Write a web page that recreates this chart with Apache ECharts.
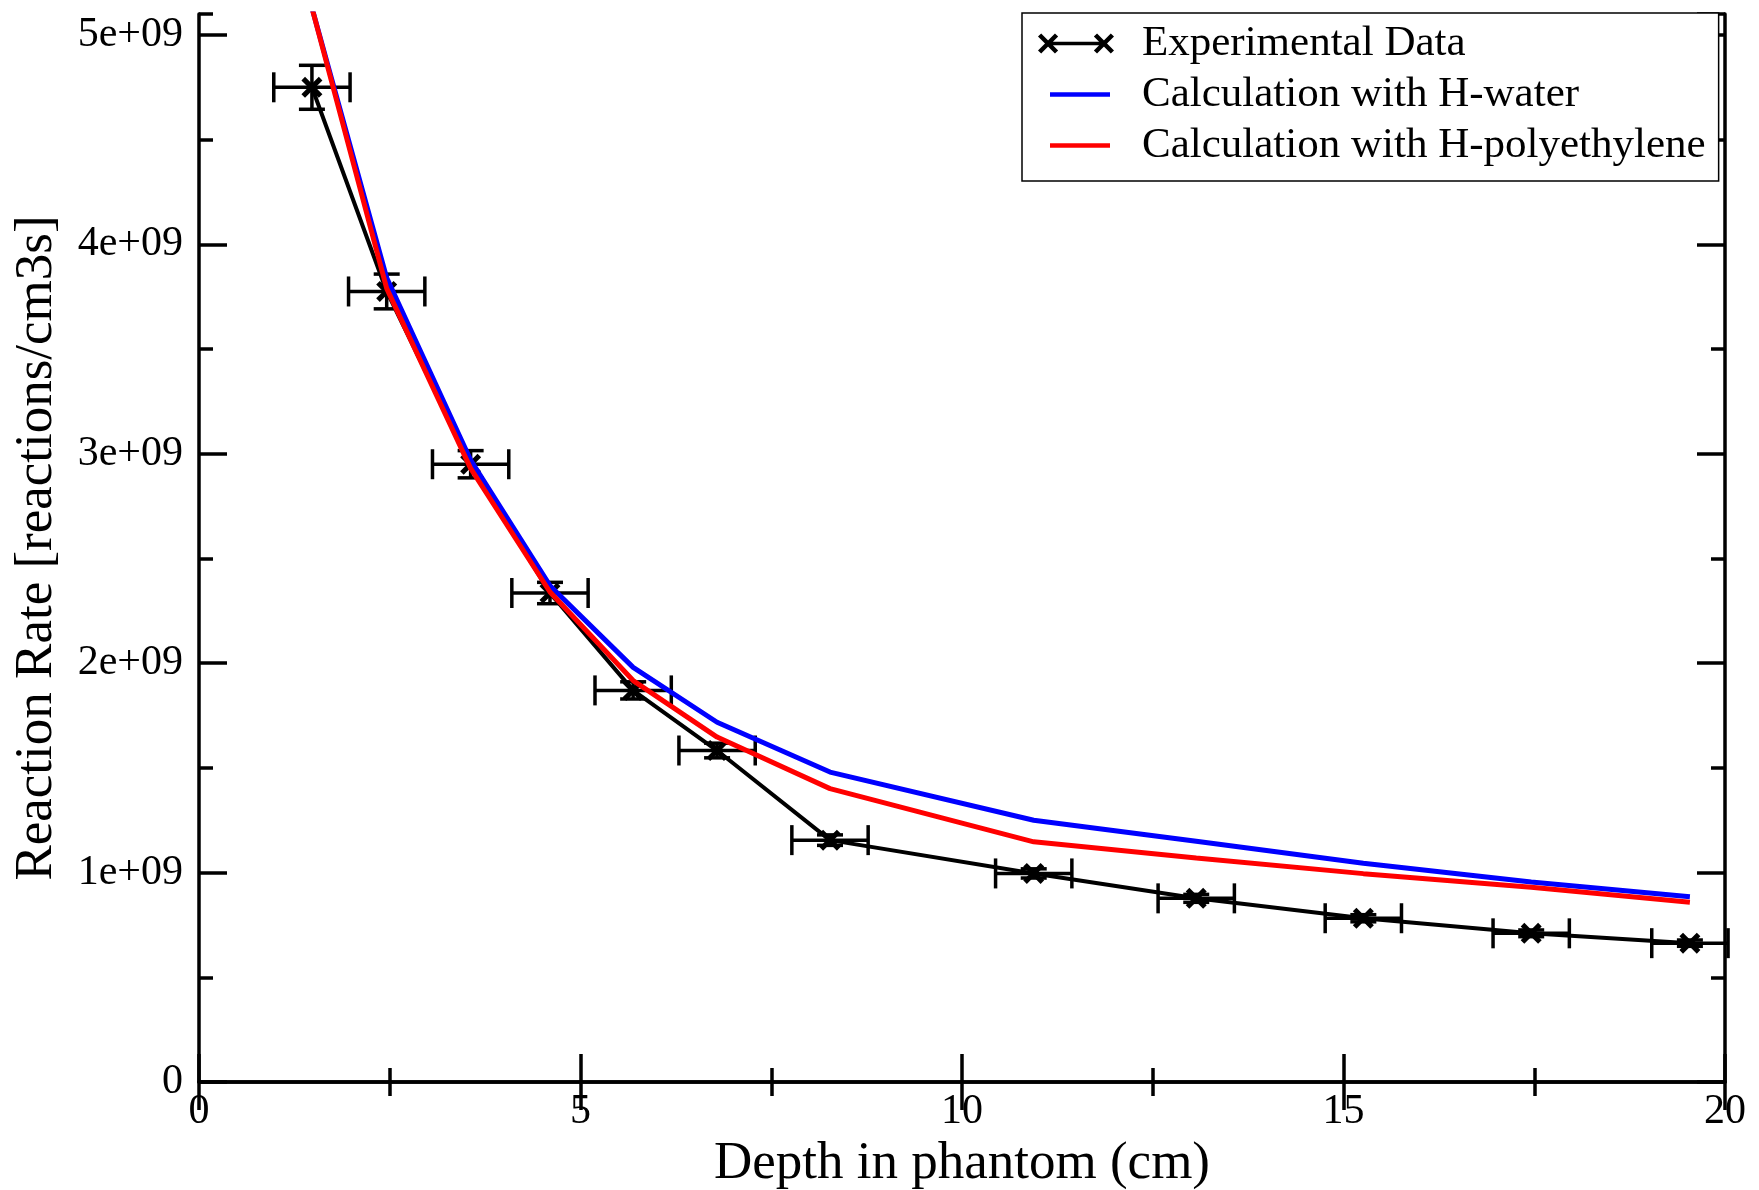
<!DOCTYPE html>
<html>
<head>
<meta charset="utf-8">
<title>Reaction Rate vs Depth</title>
<script src="https://cdn.jsdelivr.net/npm/echarts@6/dist/echarts.min.js"></script>
<style>
  html, body { margin: 0; padding: 0; background: #fff; }
  #chart { width: 1759px; height: 1190px; }
</style>
</head>
<body>
<div id="chart"></div>
<script>
// 深度 (cm)
const DEPTH = [1.48, 2.46, 3.56, 4.6, 5.69, 6.79, 8.27, 10.94, 13.07, 15.26, 17.46, 19.54];
// 实验数据
const EXP_RATE = [4.75e9, 3.775e9, 2.95e9, 2.335e9, 1.87e9, 1.583e9, 1.155e9, 0.996e9, 0.877e9, 0.782e9, 0.71e9, 0.663e9];
const EXP_X_ERR = [0.5, 0.5, 0.5, 0.5, 0.5, 0.5, 0.5, 0.5, 0.5, 0.5, 0.5, 0.5];
const EXP_Y_ERR = [0.105e9, 0.083e9, 0.065e9, 0.051e9, 0.041e9, 0.035e9, 0.025e9, 0.022e9, 0.019e9, 0.017e9, 0.016e9, 0.015e9];
// 计算值
const H_WATER = [5.13e9, 3.84e9, 2.97e9, 2.37e9, 1.98e9, 1.718e9, 1.48e9, 1.25e9, 1.15e9, 1.045e9, 0.955e9, 0.885e9];
const H_POLY = [5.13e9, 3.79e9, 2.93e9, 2.34e9, 1.917e9, 1.647e9, 1.401e9, 1.147e9, 1.07e9, 0.995e9, 0.93e9, 0.858e9];

const SERIES_NAMES = ['Experimental Data', 'Calculation with H-water', 'Calculation with H-polyethylene'];
const X_MIN = 0, X_MAX = 20, X_STEP = 5;
const Y_MIN = 0, Y_MAX = 5.1e9, Y_STEP = 1e9;

const FONT = 'Liberation Serif';

// × 形符号 (填充多边形)
const cross = (cx, cy, h, d) =>
  `M${cx - h + d},${cy - h - d}L${cx + h + d},${cy + h - d}L${cx + h - d},${cy + h + d}L${cx - h - d},${cy - h + d}Z` +
  `M${cx - h - d},${cy + h - d}L${cx + h - d},${cy - h - d}L${cx + h + d},${cy - h + d}L${cx - h + d},${cy + h + d}Z`;

const markerPath = 'path://' + cross(10, 10, 8.2, 1.7);
const expIcon = 'path://M0,0M76,22' + cross(10, 11, 8.5, 1.6) + cross(66, 11, 8.5, 1.6) + 'M10,9.3H66V12.7H10Z';
const lineIcon = 'path://M0,0M76,22M12,8.8H72V13.2H12Z';

const zip = (xs, ys) => xs.map((x, i) => [x, ys[i]]);

const tickLabel = { fontFamily: FONT, fontSize: 42, color: '#000' };
const axisLine = { show: true, lineStyle: { color: '#000', width: 3.5 } };
const majorTick = { inside: true, length: 28, lineStyle: { color: '#000', width: 3.5 } };
const minorTickStyle = { inside: true, length: 14, lineStyle: { color: '#000', width: 3.5 } };

const yFormat = (v) => (v === 0 ? '0' : v > 5e9 ? '' : Math.round(v / 1e9) + 'e+09');

// 误差棒
const renderErrorBar = (params, api) => {
  const x = api.value(0), y = api.value(1), xe = api.value(2), ye = api.value(3);
  const l = api.coord([x - xe, y]);
  const r = api.coord([x + xe, y]);
  const t = api.coord([x, y + ye]);
  const b = api.coord([x, y - ye]);
  const style = { stroke: '#000', lineWidth: 3.5 };
  const seg = (x1, y1, x2, y2) => ({ type: 'line', shape: { x1, y1, x2, y2 }, style });
  return {
    type: 'group',
    children: [
      seg(l[0], l[1], r[0], r[1]),
      seg(l[0], l[1] - 15, l[0], l[1] + 15),
      seg(r[0], r[1] - 15, r[0], r[1] + 15),
      seg(t[0], t[1], b[0], b[1]),
      seg(t[0] - 13, t[1], t[0] + 13, t[1]),
      seg(b[0] - 13, b[1], b[0] + 13, b[1]),
    ],
  };
};

const chart = echarts.init(document.getElementById('chart'));

const option = {
  backgroundColor: '#fff',
  animation: false,
  grid: { left: 199, right: 34, top: 14, bottom: 108, containLabel: false, outerBoundsMode: 'none' },
  legend: {
    orient: 'vertical',
    left: 1022,
    top: 13,
    padding: [5, 13, 10, 16],
    itemGap: 0,
    itemWidth: 76,
    itemHeight: 22,
    selectedMode: false,
    backgroundColor: '#fff',
    borderColor: '#000',
    borderWidth: 1.5,
    itemStyle: { borderWidth: 0 },
    textStyle: { fontFamily: FONT, fontSize: 43, color: '#000', lineHeight: 51, padding: [0, 0, 0, 23] },
    data: [
      { name: SERIES_NAMES[0], icon: expIcon, itemStyle: { color: '#000', borderWidth: 0 } },
      { name: SERIES_NAMES[1], icon: lineIcon, itemStyle: { color: '#0000ff', borderWidth: 0 } },
      { name: SERIES_NAMES[2], icon: lineIcon, itemStyle: { color: '#ff0000', borderWidth: 0 } },
    ],
  },
  xAxis: [
    {
      type: 'value', position: 'bottom', min: X_MIN, max: X_MAX, interval: X_STEP,
      name: 'Depth in phantom (cm)', nameLocation: 'middle', nameGap: 54,
      nameTextStyle: { fontFamily: FONT, fontSize: 53, color: '#000' },
      axisLine,
      axisTick: majorTick,
      minorTick: { show: true, splitNumber: 2, length: 14, lineStyle: { color: '#000', width: 3.5 } },
      axisLabel: { ...tickLabel, margin: 9 },
      splitLine: { show: false },
    },
    {
      type: 'value', position: 'top', min: X_MIN, max: X_MAX, interval: X_STEP,
      axisLine,
      axisTick: majorTick,
      minorTick: { show: true, splitNumber: 2, length: 14, lineStyle: { color: '#000', width: 3.5 } },
      axisLabel: { show: false },
      splitLine: { show: false },
    },
  ],
  yAxis: [
    {
      type: 'value', position: 'left', min: Y_MIN, max: Y_MAX, interval: Y_STEP,
      name: 'Reaction Rate [reactions/cm3s]', nameLocation: 'middle', nameGap: 135,
      nameTextStyle: { fontFamily: FONT, fontSize: 53, color: '#000' },
      axisLine,
      axisTick: majorTick,
      axisLabel: { ...tickLabel, margin: 16, showMaxLabel: false, formatter: yFormat },
      splitLine: { show: false },
    },
    {
      // 次刻度 (左)
      type: 'value', position: 'left', min: Y_MIN, max: Y_MAX, interval: Y_STEP / 2,
      axisLine: { show: false },
      axisTick: minorTickStyle,
      axisLabel: { show: false },
      splitLine: { show: false },
    },
    {
      type: 'value', position: 'right', min: Y_MIN, max: Y_MAX, interval: Y_STEP,
      axisLine,
      axisTick: majorTick,
      axisLabel: { show: false },
      splitLine: { show: false },
    },
    {
      // 次刻度 (右)
      type: 'value', position: 'right', min: Y_MIN, max: Y_MAX, interval: Y_STEP / 2,
      axisLine: { show: false },
      axisTick: minorTickStyle,
      axisLabel: { show: false },
      splitLine: { show: false },
    },
  ],
  series: [
    {
      name: 'errorbars',
      type: 'custom',
      xAxisIndex: 0,
      yAxisIndex: 0,
      renderItem: renderErrorBar,
      data: DEPTH.map((x, i) => [x, EXP_RATE[i], EXP_X_ERR[i], EXP_Y_ERR[i]]),
      z: 3,
    },
    {
      name: SERIES_NAMES[0],
      type: 'line',
      xAxisIndex: 0,
      yAxisIndex: 0,
      data: zip(DEPTH, EXP_RATE),
      symbol: markerPath,
      symbolSize: 21,
      itemStyle: { color: '#000' },
      lineStyle: { color: '#000', width: 4 },
      z: 4,
    },
    {
      name: SERIES_NAMES[1],
      type: 'line',
      xAxisIndex: 0,
      yAxisIndex: 0,
      data: zip(DEPTH, H_WATER),
      symbol: 'none',
      itemStyle: { color: '#0000ff' },
      lineStyle: { color: '#0000ff', width: 5 },
      z: 5,
    },
    {
      name: SERIES_NAMES[2],
      type: 'line',
      xAxisIndex: 0,
      yAxisIndex: 0,
      data: zip(DEPTH, H_POLY),
      symbol: 'none',
      itemStyle: { color: '#ff0000' },
      lineStyle: { color: '#ff0000', width: 5 },
      z: 6,
    },
  ],
};

chart.setOption(option);
window.addEventListener('resize', () => chart.resize());
</script>
</body>
</html>
